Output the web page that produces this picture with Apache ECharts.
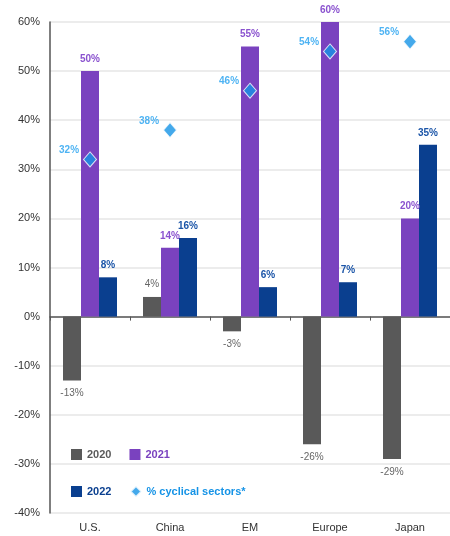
<!DOCTYPE html>
<html><head><meta charset="utf-8">
<script src="https://cdn.jsdelivr.net/npm/echarts@6/dist/echarts.min.js"></script>
<style>html,body{margin:0;padding:0;background:#fff}#c{width:450px;height:536px}</style>
</head><body><div id="c"></div>
<script>
const categories = ['U.S.', 'China', 'EM', 'Europe', 'Japan'];
const v2020 = [-13, 4, -3, -26, -29];
const v2021 = [50, 14, 55, 60, 20];
const v2022 = [8, 16, 6, 7, 35];
const cyclical = [32, 38, 46, 54, 56];
const yTicks = { min: -40, max: 60, interval: 10 };

const FONT = 'Liberation Sans, Arial, sans-serif';
const C2020 = '#595959', C2021 = '#7A42BF', C2022 = '#0A3F8F', CCYC = '#1593E6';

const chart = echarts.init(document.getElementById('c'));
const fmt = p => p.value + '%';
const legendItem = (name, color, icon) => ({ name, icon, textStyle: { color, fontWeight: 'bold' } });

chart.setOption({
  animation: false,
  textStyle: { fontFamily: FONT },
  grid: { left: 50, right: -4, top: 22, bottom: 23 },
  legend: [
    { left: 66, top: 444, itemWidth: 11, itemHeight: 11, itemGap: 18,
      textStyle: { fontSize: 11, fontFamily: FONT },
      data: [legendItem('2020', C2020, 'rect'), legendItem('2021', C2021, 'rect')] },
    { left: 66, top: 480, itemWidth: 11, itemHeight: 11, itemGap: 18,
      textStyle: { fontSize: 11, fontFamily: FONT },
      data: [legendItem('2022', C2022, 'rect'), legendItem('% cyclical sectors*', CCYC, 'diamond')] }
  ],
  xAxis: [
    { type: 'category', data: categories,
      axisLine: { onZero: true, lineStyle: { color: '#555', width: 1.5 } },
      axisTick: { show: true, length: 4, lineStyle: { color: '#555' } },
      axisLabel: { show: false }, splitLine: { show: false } },
    { type: 'category', data: categories, position: 'bottom',
      axisLine: { show: false, onZero: false }, axisTick: { show: false },
      axisLabel: { color: '#333', fontSize: 11, margin: 9, fontFamily: FONT } }
  ],
  yAxis: {
    type: 'value', min: yTicks.min, max: yTicks.max, interval: yTicks.interval,
    axisLine: { show: true, lineStyle: { color: '#555', width: 1.5 } },
    axisTick: { show: false },
    axisLabel: { formatter: '{value}%', color: '#333', fontSize: 11, margin: 10, fontFamily: FONT },
    splitLine: { lineStyle: { color: '#e6e6e6', width: 1.5 } }
  },
  series: [
    { name: '2020', type: 'bar', data: v2020, barWidth: 18, barGap: '0%',
      itemStyle: { color: C2020 },
      label: { show: true, position: 'top', formatter: fmt, color: '#666', fontSize: 10, fontFamily: FONT, distance: 8 },
      labelLayout: null },
    { name: '2021', type: 'bar', data: v2021, barWidth: 18, barGap: '0%',
      itemStyle: { color: C2021 },
      label: { show: true, position: 'top', formatter: fmt, color: '#8A52CF', fontSize: 10, fontWeight: 'bold', fontFamily: FONT, distance: 7 } },
    { name: '2022', type: 'bar', data: v2022, barWidth: 18, barGap: '0%',
      itemStyle: { color: C2022 },
      label: { show: true, position: 'top', formatter: fmt, color: '#1B55A8', fontSize: 10, fontWeight: 'bold', fontFamily: FONT, distance: 7 } },
    { name: '% cyclical sectors*', type: 'scatter', data: cyclical, symbol: 'diamond', symbolSize: [13, 15],
      itemStyle: { color: CCYC, borderColor: '#fff', borderWidth: 1 }, z: 5,
      label: { show: true, position: 'left', formatter: fmt, color: '#22A0F0', fontSize: 10, fontWeight: 'bold', fontFamily: FONT, distance: 4, offset: [0, -9] } }
  ]
});
// negative 2020 labels go below the bar
chart.setOption({ series: [{ name: '2020', data: v2020.map(v => v < 0 ? { value: v, label: { position: 'bottom' } } : v) }] });
</script></body></html>
